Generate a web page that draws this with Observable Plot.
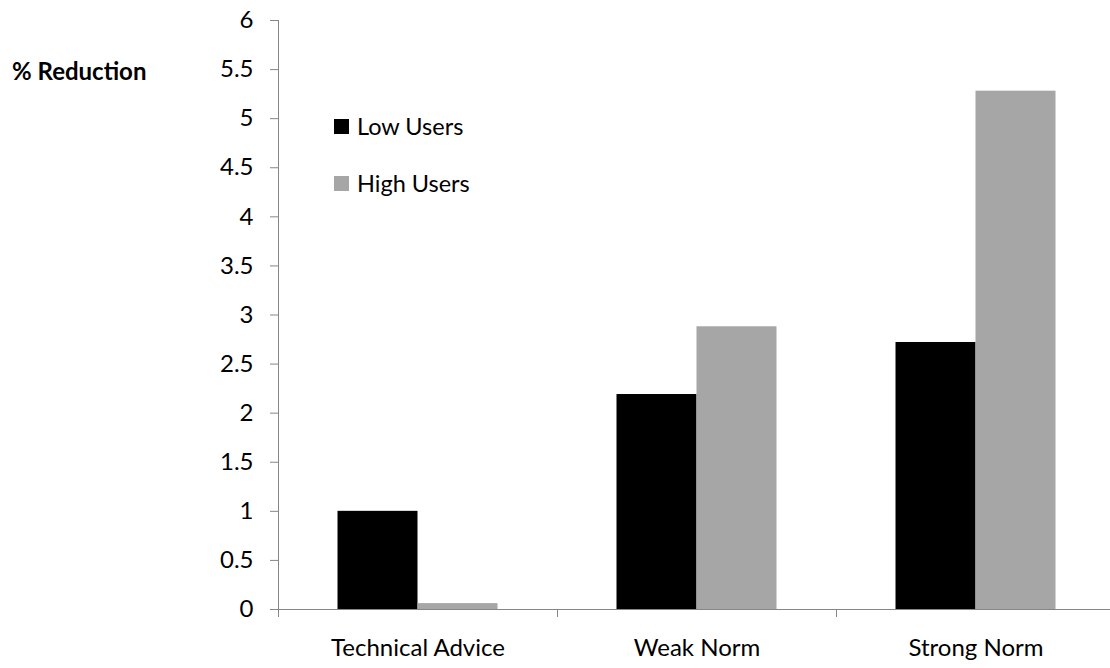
<!DOCTYPE html>
<html>
<head>
<meta charset="utf-8">
<script src="https://cdn.jsdelivr.net/npm/d3@7"></script>
<script src="https://cdn.jsdelivr.net/npm/@observablehq/plot@0.6"></script>
<style>
  html, body { margin: 0; padding: 0; background: #fff; overflow: hidden; }
  #wrap { position: relative; width: 1110px; height: 668px; overflow: hidden; font-family: Lato, "Open Sans", sans-serif; }
  #chart svg { max-width: none !important; }
  #ylabel { position: absolute; left: 12px; top: 59px; font-size: 24px; line-height: 24px; font-weight: bold; color: #000; white-space: nowrap; }
  .legend { position: absolute; left: 334px; font-size: 23.5px; line-height: 24px; color: #000; display: flex; align-items: center; white-space: nowrap; }
  .legend span.sw { width: 15px; height: 15px; display: inline-block; margin-right: 8px; }
  svg [aria-label="y-axis tick"] { stroke: #868686; }
</style>
</head>
<body>
<div id="wrap">
  <div id="chart"></div>
  <div id="ylabel">% Reduction</div>
  <div id="legend"></div>
</div>
<script>
const categories = ["Technical Advice", "Weak Norm", "Strong Norm"];
const seriesNames = ["Low Users", "High Users"];
const lowUsers = [1.0, 2.19, 2.72];
const highUsers = [0.06, 2.88, 5.28];
const yTicks = [0, 0.5, 1, 1.5, 2, 2.5, 3, 3.5, 4, 4.5, 5, 5.5, 6];
const colors = ["#000000", "#a6a6a6"];
const axisGrey = "#868686";

const lowData = categories.map((c, i) => ({category: c, series: seriesNames[0], value: lowUsers[i]}));
const highData = categories.map((c, i) => ({category: c, series: seriesNames[1], value: highUsers[i]}));

const chart = Plot.plot({
  width: 1115,
  height: 668,
  marginLeft: 278,
  marginRight: 0,
  marginTop: 20,
  marginBottom: 59,
  style: {fontFamily: "Lato, 'Open Sans', sans-serif", fontSize: "24px", color: "#000", background: "#fff", overflow: "visible"},
  x: {domain: categories, padding: 0, label: null},
  y: {domain: [0, 6], label: null},
  color: {domain: seriesNames, range: colors},
  marks: [
    Plot.barY(lowData, {x: "category", y: "value", fill: "series", insetLeft: 59.5, insetRight: 139.5}),
    Plot.barY(highData, {x: "category", y: "value", fill: "series", insetLeft: 139.5, insetRight: 59.5}),
    Plot.frame({anchor: "left", stroke: axisGrey}),
    Plot.ruleY([0], {stroke: axisGrey}),
    Plot.ruleX(categories, {x: d => d, dx: -139.5, y1: 0, y2: 0, insetBottom: -8, stroke: axisGrey}),
    Plot.axisY({ticks: yTicks, tickSize: 8, tickPadding: 17, tickFormat: d => String(d), fontSize: 24}),
    Plot.axisX({tickSize: 0, tickPadding: 29, fontSize: 24, label: null})
  ]
});
document.getElementById("chart").appendChild(chart);

const legend = document.getElementById("legend");
const legendTops = [114, 171];
seriesNames.forEach((name, i) => {
  const item = document.createElement("div");
  item.className = "legend";
  item.style.top = legendTops[i] + "px";
  item.innerHTML = `<span class="sw" style="background:${colors[i]}"></span>${name}`;
  legend.appendChild(item);
});
</script>
</body>
</html>
